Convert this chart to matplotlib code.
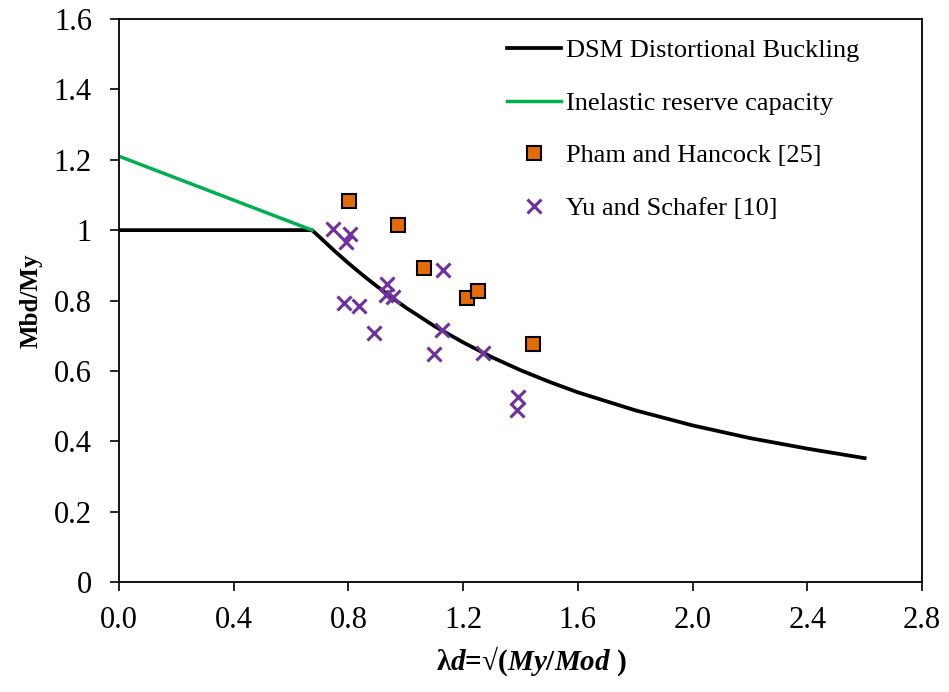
import matplotlib
matplotlib.use("Agg")
import matplotlib.pyplot as plt

plt.rcParams['font.family'] = ['Liberation Serif', 'DejaVu Serif']
plt.rcParams['mathtext.fontset'] = 'custom'
plt.rcParams['mathtext.it'] = 'Liberation Serif:italic:bold'
plt.rcParams['mathtext.rm'] = 'Liberation Serif:bold'

# DSM distortional buckling curve
dsm_x = [0.0, 0.673, 0.70, 0.75, 0.80, 0.85, 0.90, 0.95, 1.0, 1.1, 1.2, 1.3,
         1.4, 1.5, 1.6, 1.8, 2.0, 2.2, 2.4, 2.6]
dsm_y = [1.0, 1.0, 0.980, 0.942, 0.906, 0.872, 0.840, 0.809, 0.780, 0.727,
         0.681, 0.639, 0.602, 0.569, 0.539, 0.488, 0.445, 0.409, 0.379, 0.352]

# inelastic reserve capacity
irc_x = [0.0, 0.673]
irc_y = [1.21, 1.0]

# Pham and Hancock [25]
ph_x = [0.801, 0.974, 1.065, 1.213, 1.251, 1.445]
ph_y = [1.082, 1.014, 0.891, 0.806, 0.826, 0.675]

# Yu and Schafer [10]
ys_x = [0.747, 0.805, 0.791, 1.129, 0.935, 0.931, 0.954, 0.786, 0.837,
        0.889, 1.125, 1.099, 1.270, 1.390, 1.387]
ys_y = [1.002, 0.988, 0.966, 0.886, 0.848, 0.817, 0.811, 0.793, 0.784,
        0.708, 0.717, 0.649, 0.651, 0.526, 0.490]

fig = plt.figure(figsize=(9.49, 6.92), dpi=100)
ax = fig.add_axes([119/949, 1-582/692, (922-119)/949, (582-19)/692])

ax.plot(dsm_x, dsm_y, color='black', lw=2.7, label='DSM Distortional Buckling')
ax.plot(irc_x, irc_y, color='#00B050', lw=2.5, label='Inelastic reserve capacity')
ax.plot(ph_x, ph_y, ls='none', marker='s', ms=10, mfc='#E36C09', mec='black',
        mew=1.5, label='Pham and Hancock [25]')
ax.plot(ys_x, ys_y, ls='none', marker='x', ms=10, color='#7030A0', mew=2.2,
        label='Yu and Schafer [10]')

ax.set_xlim(0, 2.8)
ax.set_ylim(0, 1.6)
ax.set_xticks([0.0, 0.4, 0.8, 1.2, 1.6, 2.0, 2.4, 2.8])
ax.set_xticklabels(['0.0', '0.4', '0.8', '1.2', '1.6', '2.0', '2.4', '2.8'])
ax.set_yticks([0, 0.2, 0.4, 0.6, 0.8, 1.0, 1.2, 1.4, 1.6])
ax.set_yticklabels(['0', '0.2', '0.4', '0.6', '0.8', '1', '1.2', '1.4', '1.6'])
ax.tick_params(direction='out', length=6.5, width=1.2, labelsize=22)
ax.tick_params(axis='x', pad=11)
ax.tick_params(axis='y', pad=13)
for s in ax.spines.values():
    s.set_linewidth(1.3)

ax.set_ylabel('Mbd/My', fontsize=18, fontweight='bold', labelpad=8)
ax.set_xlabel('λ$d$=√($My/Mod$ )', fontsize=21, fontweight='bold', labelpad=4)
ax.xaxis.set_label_coords(0.514, -0.111)

ax.legend(loc='upper left', bbox_to_anchor=(0.458, 1.0), frameon=False,
          fontsize=19, handlelength=2.05, handletextpad=0.19, labelspacing=1.1,
          borderaxespad=0.35)

fig.savefig('out.png', dpi=100)
